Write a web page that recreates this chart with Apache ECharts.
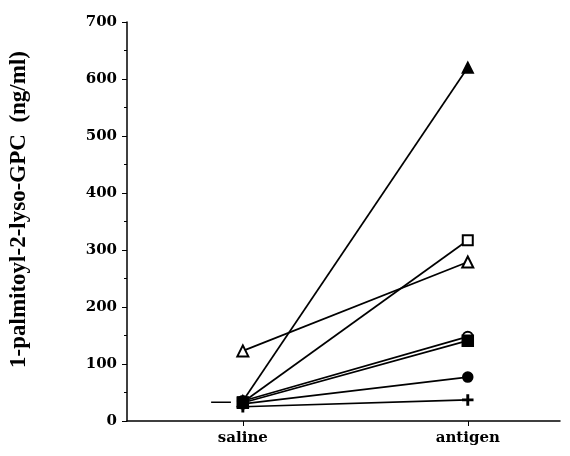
<!DOCTYPE html>
<html>
<head>
<meta charset="utf-8">
<script src="https://cdn.jsdelivr.net/npm/echarts@6/dist/echarts.min.js"></script>
<style>
  html, body { margin: 0; padding: 0; background: #fff; }
  #chart { width: 570px; height: 456px; }
</style>
</head>
<body>
<div id="chart"></div>
<script>
  // x positions: 0 = saline, 1 = antigen
  var groups = ['saline', 'antigen']
  var yTicks = [0, 100, 200, 300, 400, 500, 600, 700]

  // one pair of values per subject [saline, antigen]
  var filledTriangle = [35, 620]
  var openSquare = [33, 317]
  var openTriangle = [123, 279]
  var openCircle = [35, 148]
  var filledCircle = [30, 77]
  var plusMark = [25, 37]
  var filledSquare = [32, 141]

  // group means (short dashes beside each column)
  var means = [33, 240]

  var plusPath = 'path://M4.3,0h1.4v4.3h4.3v1.4h-4.3v4.3h-1.4v-4.3h-4.3v-1.4h4.3z'
  var serif = '"DejaVu Serif", serif'

  function pair(vals) {
    return vals.map(function (v, i) { return [i, v] })
  }

  function subject(name, vals, symbol, size) {
    return {
      name: name,
      type: 'line',
      data: pair(vals),
      symbol: symbol,
      symbolSize: size,
      showAllSymbol: true,
      lineStyle: { color: '#000', width: 1.7 },
      itemStyle: { color: '#000', borderColor: '#000', borderWidth: 1.5 },
      emphasis: { disabled: true },
      z: 3
    }
  }

  // short horizontal dash left of saline, right of antigen
  function meanDash(i, from, to) {
    return {
      type: 'line',
      data: [[i + from, means[i]], [i + to, means[i]]],
      symbol: 'none',
      lineStyle: { color: '#000', width: 1.5 },
      emphasis: { disabled: true },
      z: 2
    }
  }

  var chart = echarts.init(document.getElementById('chart'))
  chart.setOption({
    animation: false,
    backgroundColor: '#fff',
    grid: { left: 123, right: 10, top: 22, bottom: 35 },
    xAxis: {
      type: 'value',
      min: -0.515,
      max: 1.41,
      axisLine: { onZero: false, lineStyle: { color: '#000', width: 1.5 } },
      axisTick: { show: true, customValues: [0, 1], length: 5, lineStyle: { color: '#000' } },
      axisLabel: {
        customValues: [0, 1],
        formatter: function (v) { return groups[Math.round(v)] },
        color: '#000',
        fontFamily: serif,
        fontWeight: 'bold',
        fontSize: 15,
        margin: 10
      },
      splitLine: { show: false }
    },
    yAxis: {
      type: 'value',
      min: 0,
      max: 700,
      interval: 100,
      name: '1-palmitoyl-2-lyso-GPC  (ng/ml)',
      nameLocation: 'middle',
      nameGap: 96,
      nameTextStyle: {
        color: '#000',
        fontFamily: '"Liberation Serif", serif',
        fontWeight: 'bold',
        fontSize: 23,
        padding: [0, 0, 0, 24]
      },
      axisLine: { show: true, onZero: false, lineStyle: { color: '#000', width: 1.5 } },
      axisTick: { show: true, length: 5, lineStyle: { color: '#000' } },
      minorTick: { show: true, splitNumber: 2, length: 3, lineStyle: { color: '#000' } },
      axisLabel: {
        color: '#000',
        fontFamily: serif,
        fontWeight: 'bold',
        fontSize: 15,
        margin: 10,
        formatter: function (v) { return yTicks.indexOf(v) >= 0 ? String(v) : '' }
      },
      splitLine: { show: false }
    },
    series: [
      subject('filledTriangle', filledTriangle, 'triangle', 11),
      subject('openSquare', openSquare, 'emptyRect', 10),
      subject('openTriangle', openTriangle, 'emptyTriangle', 11),
      subject('openCircle', openCircle, 'emptyCircle', 10),
      subject('filledCircle', filledCircle, 'circle', 10),
      subject('plus', plusMark, plusPath, 10),
      subject('filledSquare', filledSquare, 'rect', 11),
      meanDash(0, -0.141, -0.053),
      meanDash(1, 1.11, 1.19)
    ]
  })
</script>
</body>
</html>
